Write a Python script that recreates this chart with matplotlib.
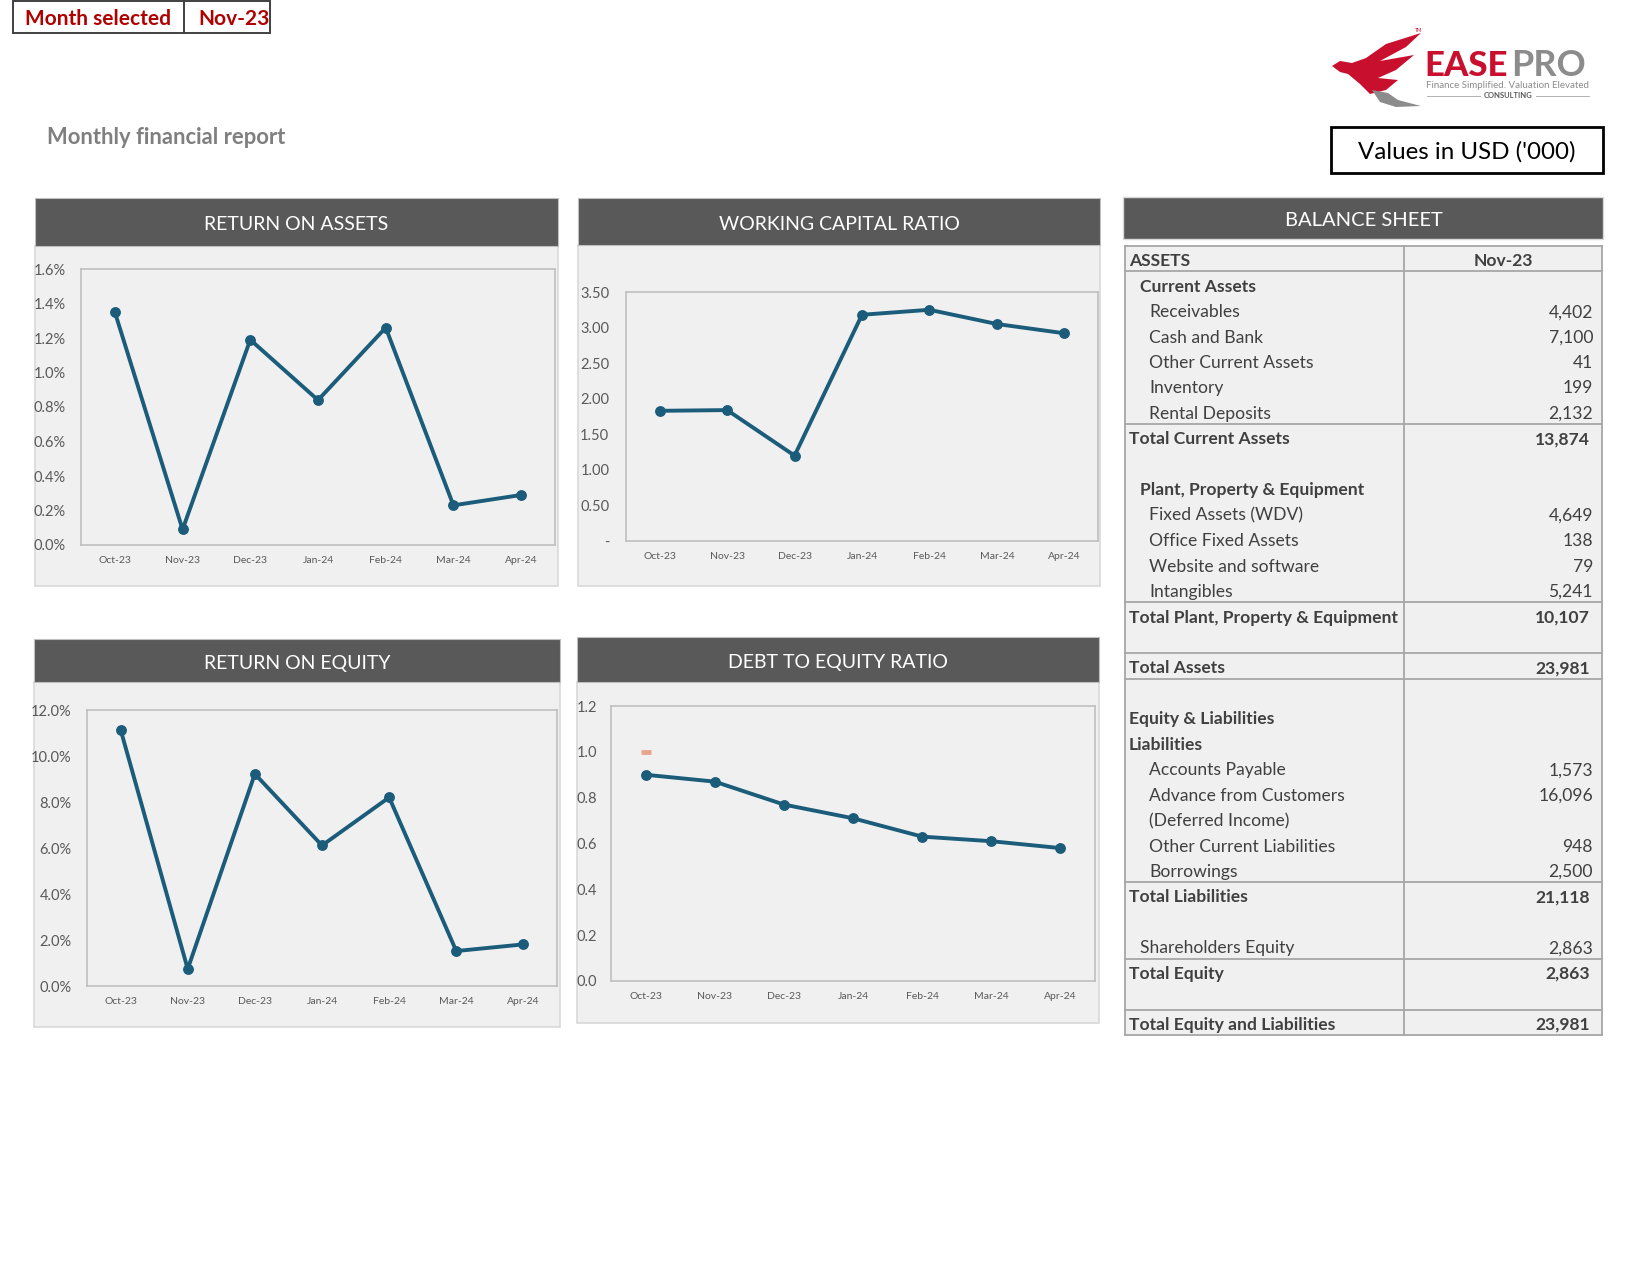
import matplotlib
matplotlib.use("Agg")
import matplotlib.pyplot as plt
from matplotlib.patches import Rectangle, Polygon
from matplotlib.ticker import FuncFormatter, MultipleLocator

plt.rcParams['font.family'] = ['Lato', 'DejaVu Sans']

# ---- data ----
months = ["Oct-23", "Nov-23", "Dec-23", "Jan-24", "Feb-24", "Mar-24", "Apr-24"]
roa = [0.0135, 0.0009, 0.0119, 0.0084, 0.0126, 0.0023, 0.0029]
wcr = [1.83, 1.84, 1.20, 3.18, 3.25, 3.05, 2.92]
roe = [0.1115, 0.0074, 0.0922, 0.0611, 0.0820, 0.0152, 0.0181]
de_ratio = [0.90, 0.87, 0.77, 0.71, 0.63, 0.61, 0.58]
de_stray = [1.0]          # lone salmon marker at Oct-23

selected_month = "Nov-23"

bs_labels = ["ASSETS", "Current Assets", "Receivables", "Cash and Bank",
             "Other Current Assets", "Inventory", "Rental Deposits",
             "Total Current Assets", "", "Plant, Property & Equipment",
             "Fixed Assets (WDV)", "Office Fixed Assets", "Website and software",
             "Intangibles", "Total Plant, Property & Equipment", "", "Total Assets", "",
             "Equity & Liabilities", "Liabilities", "Accounts Payable",
             "Advance from Customers", "(Deferred Income)", "Other Current Liabilities",
             "Borrowings", "Total Liabilities", "", "Shareholders Equity",
             "Total Equity", "", "Total Equity and Liabilities"]
bs_values = [None, None, 4402, 7100, 41, 199, 2132, 13874, None, None,
             4649, 138, 79, 5241, 10107, None, 23981, None,
             None, None, 1573, 16096, None, 948, 2500, 21118, None, 2863,
             2863, None, 23981]

# ---- layout helpers (pixel coords, origin top-left) ----
W, H = 1650, 1275
fig = plt.figure(figsize=(16.5, 12.75), dpi=100)
bg = fig.add_axes([0, 0, 1, 1], zorder=-1)
bg.set_xlim(0, W)
bg.set_ylim(H, 0)
bg.axis('off')

LINE = '#1B5C7A'
PANEL = '#F0F0F0'
HEAD = '#595959'
TICK = '#595959'


def rect(x0, y0, x1, y1, **kw):
    bg.add_patch(Rectangle((x0, y0), x1 - x0, y1 - y0, **kw))


def panel(x0, x1, ytop, yhead, ybot, title):
    rect(x0, yhead, x1, ybot, fc=PANEL, ec='#D9D9D9', lw=1.2)
    rect(x0, ytop, x1, yhead, fc=HEAD, ec='#BFBFBF', lw=0.8)
    bg.text((x0 + x1) / 2, (ytop + yhead) / 2 + 3, title, color='white',
            ha='center', va='center', fontsize=14)


def chart(box, values, ylim, step, fmt, ypad):
    x0, y0, x1, y1 = box
    ax = fig.add_axes([x0 / W, 1 - y1 / H, (x1 - x0) / W, (y1 - y0) / H])
    ax.set_facecolor(PANEL)
    ax.plot(range(len(values)), values, color=LINE, lw=2.8, marker='o',
            ms=6.8, clip_on=False, zorder=3)
    ax.set_xlim(-0.5, len(months) - 0.5)
    ax.set_ylim(*ylim)
    ax.yaxis.set_major_locator(MultipleLocator(step))
    ax.yaxis.set_major_formatter(FuncFormatter(fmt))
    ax.set_xticks(range(len(months)), months)
    ax.tick_params(axis='y', length=0, pad=ypad, labelsize=10.5, labelcolor=TICK)
    ax.tick_params(axis='x', length=0, pad=8, labelsize=7.5, labelcolor=TICK)
    for s in ax.spines.values():
        s.set_color('#BFBFBF')
        s.set_linewidth(1.2)
    return ax


# ---- header area ----
rect(12.6, 1, 270, 33, fc='white', ec='#404040', lw=1.4)
bg.plot([184, 184], [1, 33], color='#404040', lw=1.4)
bg.text(25, 19, "Month selected", color='#B00000', fontsize=15, fontweight='bold',
        va='center', ha='left')
bg.text(198, 19, selected_month, color='#B00000', fontsize=15, fontweight='bold',
        va='center', ha='left')
bg.text(47, 138, "Monthly financial report", color='#7F7F7F', fontsize=15.8,
        fontweight='bold', va='center', ha='left')

rect(1331, 127, 1603, 173, fc='white', ec='black', lw=2)
bg.text(1467, 152, "Values in USD ('000)", color='black', fontsize=17.4,
        ha='center', va='center')

# logo (simplified)
bg.add_patch(Polygon([(1332, 66), (1340, 61), (1352, 63), (1366, 58), (1386, 44),
                      (1421, 33), (1406, 47), (1380, 61), (1414, 55), (1396, 70),
                      (1378, 78), (1398, 80), (1386, 90), (1370, 94), (1360, 84),
                      (1348, 74), (1340, 72)], closed=True, fc='#C8102E', ec='none'))
bg.add_patch(Polygon([(1372, 90), (1380, 102), (1396, 107), (1421, 106),
                      (1398, 100), (1388, 93)], closed=True, fc='#8C8C8C', ec='none'))
bg.text(1419, 31, "TM", fontsize=3.5, color='#C8102E', ha='center', va='center')
bg.text(1424, 66, "EASE", color='#C8102E', fontsize=25, fontweight='black',
        ha='left', va='center')
bg.text(1511, 66, "PRO", color='#8C8C8C', fontsize=26, fontweight='bold',
        ha='left', va='center')
bg.text(1508, 86, "Finance Simplified. Valuation Elevated", color='#8C8C8C',
        fontsize=7, ha='center', va='center')
bg.text(1508, 96, "CONSULTING", color='#595959', fontsize=5.5, fontweight='bold',
        ha='center', va='center')
bg.plot([1427, 1480], [96, 96], color='#A6A6A6', lw=0.6)
bg.plot([1536, 1589], [96, 96], color='#A6A6A6', lw=0.6)

# ---- chart panels ----
panel(35, 558, 198, 246, 586, "RETURN ON ASSETS")
panel(578, 1100, 198, 245, 586, "WORKING CAPITAL RATIO")
panel(34, 560, 639, 682, 1027, "RETURN ON EQUITY")
panel(577, 1099, 637, 682, 1023, "DEBT TO EQUITY RATIO")

chart((81, 269, 555, 545), roa, (0, 0.016), 0.002,
      lambda v, p: f"{v * 100:.1f}%", 11)
chart((626, 292, 1098, 541), wcr, (0, 3.5), 0.5,
      lambda v, p: "-" if abs(v) < 1e-9 else f"{v:.2f}", 12)
chart((87, 710, 557, 986), roe, (0, 0.12), 0.02,
      lambda v, p: f"{v * 100:.1f}%", 11)
ax_de = chart((611, 706, 1095, 981), de_ratio, (0, 1.2), 0.2,
              lambda v, p: f"{v:.1f}", 10)
ax_de.plot(range(len(de_stray)), de_stray, ls='none', marker='_', ms=7, mew=3.5,
           color='#EBA48C', zorder=4)

# ---- balance sheet ----
TX0, TDIV, TX1 = 1125, 1404, 1602
TY0, RH = 246, 25.45
nrows = len(bs_labels)
rect(1123, 197, 1603, 239, fc=HEAD, ec='#D9D9D9', lw=1)
bg.text(1364, 221, "BALANCE SHEET", color='white', fontsize=14.5,
        ha='center', va='center')
rect(TX0, TY0, TX1, TY0 + nrows * RH, fc=PANEL, ec='none')

row_kind = ['head', 'sub', 'item', 'item', 'item', 'item', 'item', 'total', 'blank',
            'sub', 'item', 'item', 'item', 'item', 'total', 'blank', 'total', 'blank',
            'total', 'total', 'item', 'item', 'item', 'item', 'item', 'total', 'blank',
            'plain', 'total', 'blank', 'total']
label_x = {'head': 1129, 'total': 1129, 'sub': 1140, 'plain': 1140, 'item': 1149}
TXT = '#404040'
FS = 12.6

for i, (lab, val, kind) in enumerate(zip(bs_labels, bs_values, row_kind)):
    yc = TY0 + (i + 0.5) * RH + 2.5
    bold = kind in ('head', 'total', 'sub')
    if lab:
        bg.text(label_x[kind], yc, lab, color=TXT, fontsize=FS,
                fontweight='bold' if bold else 'normal', ha='left', va='center')
    if kind == 'head':
        bg.text(1503, yc, selected_month, color=TXT, fontsize=FS,
                fontweight='bold', ha='center', va='center')
    elif val is not None:
        bg.text(1590 if bold else 1593, yc, f"{val:,}", color=TXT, fontsize=FS,
                fontweight='bold' if bold else 'normal', ha='right', va='center')

for b in [0, 1, 7, 14, 16, 17, 25, 28, 30, 31]:
    bg.plot([TX0, TX1], [TY0 + b * RH] * 2, color='#A6A6A6', lw=1.3)
for x in (TX0, TDIV, TX1):
    bg.plot([x, x], [TY0, TY0 + nrows * RH], color='#A6A6A6', lw=1.3)

fig.savefig("out.png", dpi=100, facecolor='white')
